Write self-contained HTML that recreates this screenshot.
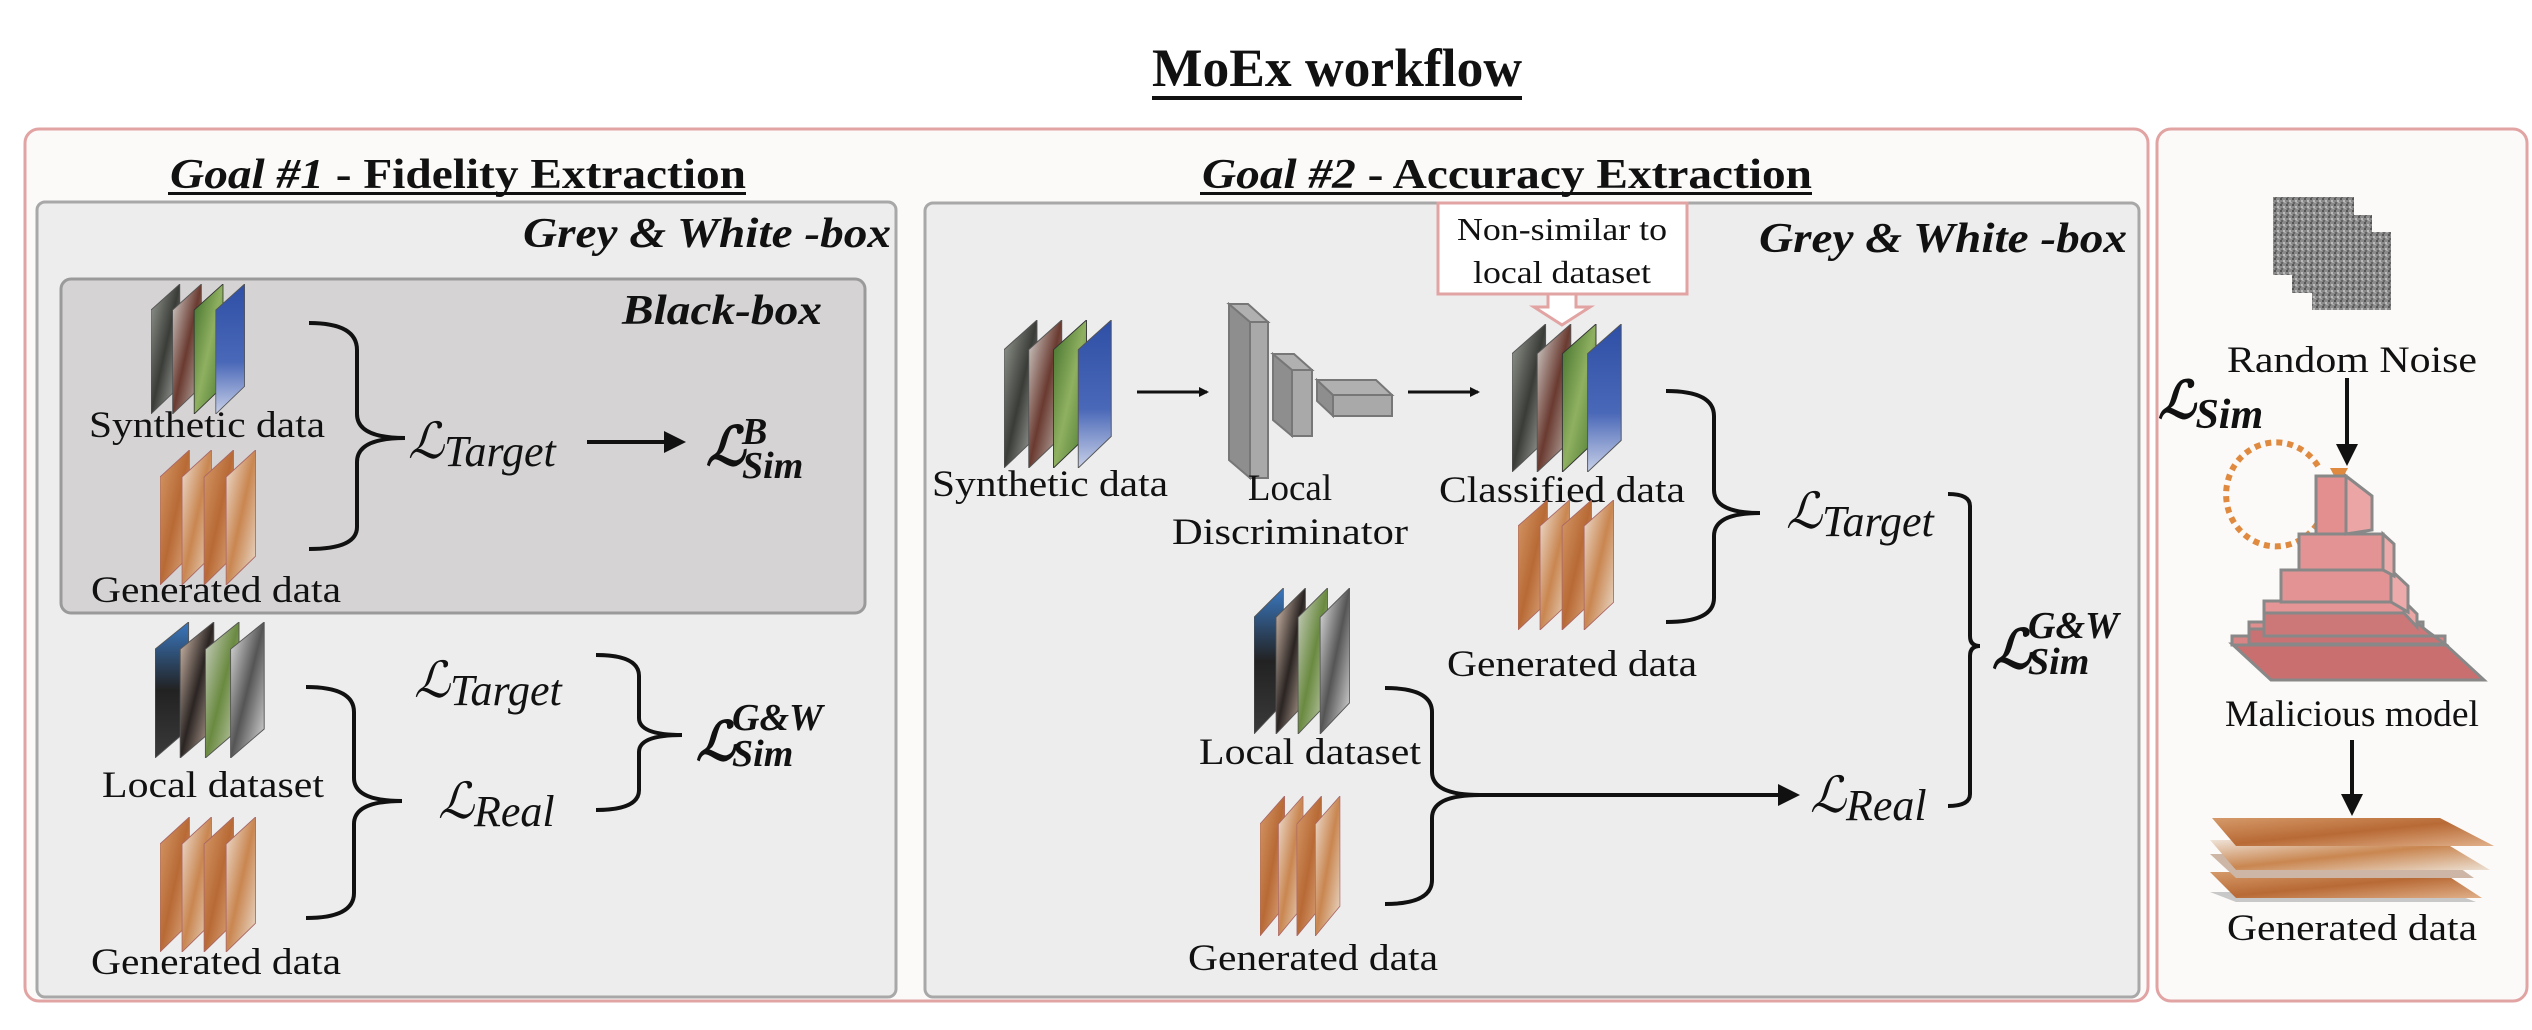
<!DOCTYPE html>
<html><head><meta charset="utf-8"><style>
html,body{margin:0;padding:0;background:#fff;}
svg{display:block;font-family:"Liberation Serif",serif;}
svg text{font-family:"Liberation Serif",serif;fill:#111;}
svg text.lbl{font-size:37px;font-family:"Liberation Serif",serif;}
svg text.m{font-family:"Liberation Serif",serif;font-style:italic;}
</style></head><body>
<svg width="2532" height="1030" viewBox="0 0 2532 1030" xmlns="http://www.w3.org/2000/svg" font-family="Liberation Serif, serif">
<defs>
<marker id="ah" markerWidth="10" markerHeight="10" refX="8" refY="5" orient="auto" markerUnits="userSpaceOnUse">
<path d="M0,0 L10,5 L0,10 z" fill="#111"/></marker>
<marker id="ah2" markerWidth="22" markerHeight="22" refX="18" refY="11" orient="auto" markerUnits="userSpaceOnUse">
<path d="M0,0 L22,11 L0,22 z" fill="#111"/></marker>
<linearGradient id="g1" x1="0" y1="0" x2="1" y2="1"><stop offset="0" stop-color="#9aa096"/><stop offset=".5" stop-color="#3a3c38"/><stop offset="1" stop-color="#b8bcb4"/></linearGradient>
<linearGradient id="g2" x1="0" y1="0" x2="1" y2="1"><stop offset="0" stop-color="#d8d8d4"/><stop offset=".5" stop-color="#6a3a30"/><stop offset="1" stop-color="#c8c4be"/></linearGradient>
<linearGradient id="g3" x1="0" y1="0" x2="1" y2="1"><stop offset="0" stop-color="#3f6e2a"/><stop offset=".5" stop-color="#8fb060"/><stop offset="1" stop-color="#46752e"/></linearGradient>
<linearGradient id="g4" x1="0" y1="0" x2="0" y2="1"><stop offset="0" stop-color="#2e4fa6"/><stop offset=".6" stop-color="#4a68b8"/><stop offset="1" stop-color="#c8d0e8"/></linearGradient>
<linearGradient id="b1" x1="0" y1="0" x2="1" y2="1"><stop offset="0" stop-color="#d59a6a"/><stop offset=".5" stop-color="#b86a35"/><stop offset="1" stop-color="#e0b08a"/></linearGradient>
<linearGradient id="b2" x1="0" y1="0" x2="1" y2="1"><stop offset="0" stop-color="#efe3d8"/><stop offset=".5" stop-color="#c98650"/><stop offset="1" stop-color="#ece0d2"/></linearGradient>
<linearGradient id="l1" x1="0" y1="0" x2="0" y2="1"><stop offset="0" stop-color="#3a78c0"/><stop offset=".5" stop-color="#222"/><stop offset="1" stop-color="#3a3a3a"/></linearGradient>
<linearGradient id="l2" x1="0" y1="0" x2="1" y2="1"><stop offset="0" stop-color="#e0c8b8"/><stop offset=".5" stop-color="#2a2422"/><stop offset="1" stop-color="#d8c0b0"/></linearGradient>
<linearGradient id="l3" x1="0" y1="0" x2="1" y2="1"><stop offset="0" stop-color="#d0d4c8"/><stop offset=".5" stop-color="#6a8a40"/><stop offset="1" stop-color="#cfd6c0"/></linearGradient>
<linearGradient id="l4" x1="0" y1="0" x2="1" y2="1"><stop offset="0" stop-color="#e8e8e8"/><stop offset=".5" stop-color="#555"/><stop offset="1" stop-color="#e0e0e0"/></linearGradient>
<pattern id="noise" width="6" height="6" patternUnits="userSpaceOnUse"><rect width="6" height="6" fill="#8a8a8a"/><rect x="0" y="0" width="2" height="2" fill="#555"/><rect x="3" y="2" width="2" height="2" fill="#bbb"/><rect x="1" y="4" width="2" height="2" fill="#666"/><rect x="4" y="4" width="2" height="1" fill="#aaa"/></pattern>
<symbol id="syn" viewBox="0 0 120 150" preserveAspectRatio="none">
<polygon points="0,30 36,0 36,118 0,150" fill="url(#g1)" stroke="#555" stroke-width="1"/>
<polygon points="27,30 63,0 63,118 27,150" fill="url(#g2)" stroke="#555" stroke-width="1"/>
<polygon points="54,30 90,0 90,118 54,150" fill="url(#g3)" stroke="#333" stroke-width="1"/>
<polygon points="81,30 117,0 117,118 81,150" fill="url(#g4)" stroke="#555" stroke-width="1"/>
</symbol>
<symbol id="gen" viewBox="0 0 120 150" preserveAspectRatio="none">
<polygon points="0,30 36,0 36,118 0,150" fill="url(#b1)" stroke="#a66" stroke-width="1"/>
<polygon points="27,30 63,0 63,118 27,150" fill="url(#b2)" stroke="#a66" stroke-width="1"/>
<polygon points="54,30 90,0 90,118 54,150" fill="url(#b1)" stroke="#a66" stroke-width="1"/>
<polygon points="81,30 117,0 117,118 81,150" fill="url(#b2)" stroke="#a66" stroke-width="1"/>
</symbol>
<symbol id="loc" viewBox="0 0 120 150" preserveAspectRatio="none">
<polygon points="0,30 36,0 36,118 0,150" fill="url(#l1)" stroke="#555" stroke-width="1"/>
<polygon points="27,30 63,0 63,118 27,150" fill="url(#l2)" stroke="#555" stroke-width="1"/>
<polygon points="54,30 90,0 90,118 54,150" fill="url(#l3)" stroke="#555" stroke-width="1"/>
<polygon points="81,30 117,0 117,118 81,150" fill="url(#l4)" stroke="#555" stroke-width="1"/>
</symbol>
</defs>

<text x="1337" y="86" font-size="54" font-weight="bold" text-anchor="middle" textLength="370" lengthAdjust="spacingAndGlyphs">MoEx workflow</text>
<rect x="1152" y="96" width="370" height="4" fill="#111"/>

<rect x="25" y="129" width="2123" height="872" rx="14" fill="#fbfaf9" stroke="#e2a3a3" stroke-width="3"/>
<rect x="2157" y="129" width="370" height="872" rx="14" fill="#fbfaf9" stroke="#e2a3a3" stroke-width="3"/>

<text x="170" y="188" font-size="42" font-weight="bold" textLength="576" lengthAdjust="spacingAndGlyphs"><tspan font-style="italic">Goal #1</tspan> - Fidelity Extraction</text>
<rect x="168" y="192" width="578" height="3" fill="#111"/>
<text x="1202" y="188" font-size="42" font-weight="bold" textLength="610" lengthAdjust="spacingAndGlyphs"><tspan font-style="italic">Goal #2</tspan> - Accuracy Extraction</text>
<rect x="1200" y="192" width="612" height="3" fill="#111"/>

<rect x="37" y="202" width="859" height="795" rx="8" fill="#ededed" stroke="#a8a8a8" stroke-width="3"/>
<rect x="925" y="203" width="1214" height="794" rx="8" fill="#ededed" stroke="#a8a8a8" stroke-width="3"/>
<text x="891" y="247" font-size="42" font-weight="bold" font-style="italic" text-anchor="end" textLength="368" lengthAdjust="spacingAndGlyphs">Grey &amp; White -box</text>
<text x="2127" y="252" font-size="42" font-weight="bold" font-style="italic" text-anchor="end" textLength="368" lengthAdjust="spacingAndGlyphs">Grey &amp; White -box</text>

<rect x="61" y="279" width="804" height="334" rx="10" fill="#d5d3d3" stroke="#9a9a9a" stroke-width="3"/>
<text x="822" y="324" font-size="42" font-weight="bold" font-style="italic" text-anchor="end" textLength="200" lengthAdjust="spacingAndGlyphs">Black-box</text>

<use href="#syn" x="151" y="284" width="96" height="130"/>
<text class="lbl" x="207" y="437" text-anchor="middle" textLength="236" lengthAdjust="spacingAndGlyphs">Synthetic data</text>
<use href="#gen" x="160" y="450" width="98" height="135"/>
<text class="lbl" x="216" y="602" text-anchor="middle" textLength="250" lengthAdjust="spacingAndGlyphs">Generated data</text>
<path d="M309,323 Q357,323 357,350 L357,414 Q357,438 405,438 Q357,438 357,462 L357,527 Q357,549 309,549" fill="none" stroke="#111" stroke-width="4"/>
<text x="408" y="458" font-size="50" class="m">ℒ<tspan font-size="44" dy="8">Target</tspan></text>
<line x1="587" y1="442" x2="682" y2="442" stroke="#111" stroke-width="4" marker-end="url(#ah2)"/>
<text x="706" y="465" font-size="54" class="m" font-weight="bold">ℒ</text>
<text x="742" y="444" font-size="38" class="m" font-weight="bold">B</text>
<text x="742" y="478" font-size="38" class="m" font-weight="bold">Sim</text>

<use href="#loc" x="155" y="622" width="112" height="136"/>
<text class="lbl" x="213" y="797" text-anchor="middle" textLength="222" lengthAdjust="spacingAndGlyphs">Local dataset</text>
<use href="#gen" x="160" y="817" width="98" height="135"/>
<text class="lbl" x="216" y="974" text-anchor="middle" textLength="250" lengthAdjust="spacingAndGlyphs">Generated data</text>
<path d="M306,687 Q354,687 354,712 L354,778 Q354,801 402,801 Q354,801 354,824 L354,893 Q354,918 306,918" fill="none" stroke="#111" stroke-width="4"/>
<text x="414" y="697" font-size="50" class="m">ℒ<tspan font-size="44" dy="8">Target</tspan></text>
<text x="438" y="818" font-size="50" class="m">ℒ<tspan font-size="44" dy="8">Real</tspan></text>
<path d="M596,655 Q639,655 639,676 L639,718 Q639,735 682,735 Q639,735 639,752 L639,790 Q639,810 596,810" fill="none" stroke="#111" stroke-width="4"/>
<text x="696" y="760" font-size="54" class="m" font-weight="bold">ℒ</text>
<text x="732" y="730" font-size="38" class="m" font-weight="bold">G&amp;W</text>
<text x="732" y="766" font-size="38" class="m" font-weight="bold">Sim</text>

<rect x="1438" y="203" width="249" height="91" fill="#fff" stroke="#e2a3a3" stroke-width="3"/>
<text x="1562" y="240" font-size="32" text-anchor="middle" textLength="210" lengthAdjust="spacingAndGlyphs">Non-similar to</text>
<text x="1562" y="283" font-size="32" text-anchor="middle" textLength="178" lengthAdjust="spacingAndGlyphs">local dataset</text>
<polygon points="1548,294 1576,294 1576,307 1590,307 1562,325 1534,307 1548,307" fill="#fff" stroke="#e2a3a3" stroke-width="3"/>

<use href="#syn" x="1004" y="320" width="110" height="148"/>
<text class="lbl" x="1050" y="496" text-anchor="middle" textLength="236" lengthAdjust="spacingAndGlyphs">Synthetic data</text>
<line x1="1137" y1="392" x2="1207" y2="392" stroke="#111" stroke-width="3" marker-end="url(#ah)"/>
<polygon points="1229,304 1250,322 1250,478 1229,460" fill="#8e8e8e" stroke="#777" stroke-width="2"/>
<polygon points="1229,304 1248,304 1268,322 1250,322" fill="#b0b0b0" stroke="#777" stroke-width="2"/>
<rect x="1250" y="322" width="18" height="156" fill="#a9a9a9" stroke="#777" stroke-width="2"/>
<polygon points="1273,354 1292,370 1292,436 1273,420" fill="#8e8e8e" stroke="#777" stroke-width="2"/>
<polygon points="1273,354 1294,354 1312,370 1292,370" fill="#b0b0b0" stroke="#777" stroke-width="2"/>
<rect x="1292" y="370" width="20" height="66" fill="#a9a9a9" stroke="#777" stroke-width="2"/>
<polygon points="1317,380 1333,395 1333,416 1317,401" fill="#8e8e8e" stroke="#777" stroke-width="2"/>
<polygon points="1317,380 1376,380 1392,395 1333,395" fill="#b0b0b0" stroke="#777" stroke-width="2"/>
<rect x="1333" y="395" width="59" height="21" fill="#a9a9a9" stroke="#777" stroke-width="2"/>
<text class="lbl" x="1290" y="500" text-anchor="middle">Local</text>
<text class="lbl" x="1290" y="544" text-anchor="middle" textLength="236" lengthAdjust="spacingAndGlyphs">Discriminator</text>
<line x1="1408" y1="392" x2="1478" y2="392" stroke="#111" stroke-width="3" marker-end="url(#ah)"/>
<use href="#syn" x="1512" y="324" width="112" height="148"/>
<text class="lbl" x="1562" y="502" text-anchor="middle" textLength="246" lengthAdjust="spacingAndGlyphs">Classified data</text>
<use href="#gen" x="1518" y="500" width="98" height="130"/>
<text class="lbl" x="1572" y="676" text-anchor="middle" textLength="250" lengthAdjust="spacingAndGlyphs">Generated data</text>
<path d="M1666,391 Q1714,391 1714,416 L1714,490 Q1714,513 1760,513 Q1714,513 1714,536 L1714,598 Q1714,622 1666,622" fill="none" stroke="#111" stroke-width="4"/>
<text x="1786" y="528" font-size="50" class="m">ℒ<tspan font-size="44" dy="8">Target</tspan></text>

<use href="#loc" x="1254" y="588" width="98" height="146"/>
<text class="lbl" x="1310" y="764" text-anchor="middle" textLength="222" lengthAdjust="spacingAndGlyphs">Local dataset</text>
<use href="#gen" x="1260" y="796" width="82" height="140"/>
<text class="lbl" x="1313" y="970" text-anchor="middle" textLength="250" lengthAdjust="spacingAndGlyphs">Generated data</text>
<path d="M1385,688 Q1432,688 1432,712 L1432,772 Q1432,795 1480,795 Q1432,795 1432,818 L1432,880 Q1432,904 1385,904" fill="none" stroke="#111" stroke-width="4"/>
<line x1="1470" y1="795" x2="1796" y2="795" stroke="#111" stroke-width="4" marker-end="url(#ah2)"/>
<text x="1810" y="812" font-size="50" class="m">ℒ<tspan font-size="44" dy="8">Real</tspan></text>
<path d="M1948,494 Q1970,494 1970,506 L1970,636 Q1970,646 1980,646 Q1970,646 1970,656 L1970,794 Q1970,806 1948,806" fill="none" stroke="#111" stroke-width="4"/>
<text x="1992" y="668" font-size="54" class="m" font-weight="bold">ℒ</text>
<text x="2028" y="638" font-size="38" class="m" font-weight="bold">G&amp;W</text>
<text x="2028" y="674" font-size="38" class="m" font-weight="bold">Sim</text>

<rect x="2312" y="232" width="79" height="78" fill="url(#noise)"/>
<rect x="2292" y="215" width="80" height="78" fill="url(#noise)"/>
<rect x="2273" y="197" width="81" height="78" fill="url(#noise)"/>
<text class="lbl" x="2352" y="372" text-anchor="middle" textLength="250" lengthAdjust="spacingAndGlyphs">Random Noise</text>
<text x="2158" y="418" font-size="52" class="m" font-weight="bold">ℒ<tspan font-size="42" dy="10">Sim</tspan></text>
<line x1="2347" y1="378" x2="2347" y2="462" stroke="#111" stroke-width="4" marker-end="url(#ah2)"/>
<path d="M2318,466 A50,52 0 1 0 2322,515" fill="none" stroke="#e08a40" stroke-width="6" stroke-dasharray="6,5"/>
<polygon points="2330,468 2348,468 2339,485" fill="#e08a40"/>
<g stroke="#888" stroke-width="3">
<polygon points="2232,644 2445,644 2484,680 2271,680" fill="#c96f70"/>
<rect x="2232" y="636" width="213" height="9" fill="#d98485"/>
<polygon points="2249,628 2423,628 2445,644 2249,644" fill="#c97273"/>
<rect x="2249" y="622" width="174" height="7" fill="#e08e8e"/>
<polygon points="2264,612 2404,612 2433,636 2264,636" fill="#cc7879"/>
<rect x="2264" y="601" width="140" height="12" fill="#e59595"/>
<polygon points="2404,601 2417,614 2417,627 2404,613" fill="#eaa5a5"/>
<rect x="2281" y="570" width="110" height="32" fill="#e49394"/>
<polygon points="2391,570 2408,586 2408,612 2391,602" fill="#ecaaaa"/>
<rect x="2299" y="534" width="84" height="36" fill="#e49394"/>
<polygon points="2383,534 2394,544 2394,576 2383,570" fill="#ecaaaa"/>
<rect x="2316" y="476" width="30" height="58" fill="#e38e8f"/>
<polygon points="2346,476 2372,496 2372,530 2346,534" fill="#eca5a5"/>
</g>
<text class="lbl" x="2352" y="726" text-anchor="middle" textLength="254" lengthAdjust="spacingAndGlyphs">Malicious model</text>
<line x1="2352" y1="740" x2="2352" y2="812" stroke="#111" stroke-width="4" marker-end="url(#ah2)"/>
<g stroke="none">
<polygon points="2210,892 2450,892 2476,902 2236,902" fill="#c8c8c8"/>
<polygon points="2210,872 2442,872 2482,898 2236,898" fill="url(#b1)"/>
<polygon points="2210,854 2440,854 2474,878 2236,878" fill="#cdb6a6"/>
<polygon points="2210,840 2440,840 2490,870 2236,870" fill="url(#b2)"/>
<polygon points="2212,818 2440,818 2494,846 2236,846" fill="url(#b1)"/>
</g>
<text class="lbl" x="2352" y="940" text-anchor="middle" textLength="250" lengthAdjust="spacingAndGlyphs">Generated data</text>
</svg>
</body></html>
